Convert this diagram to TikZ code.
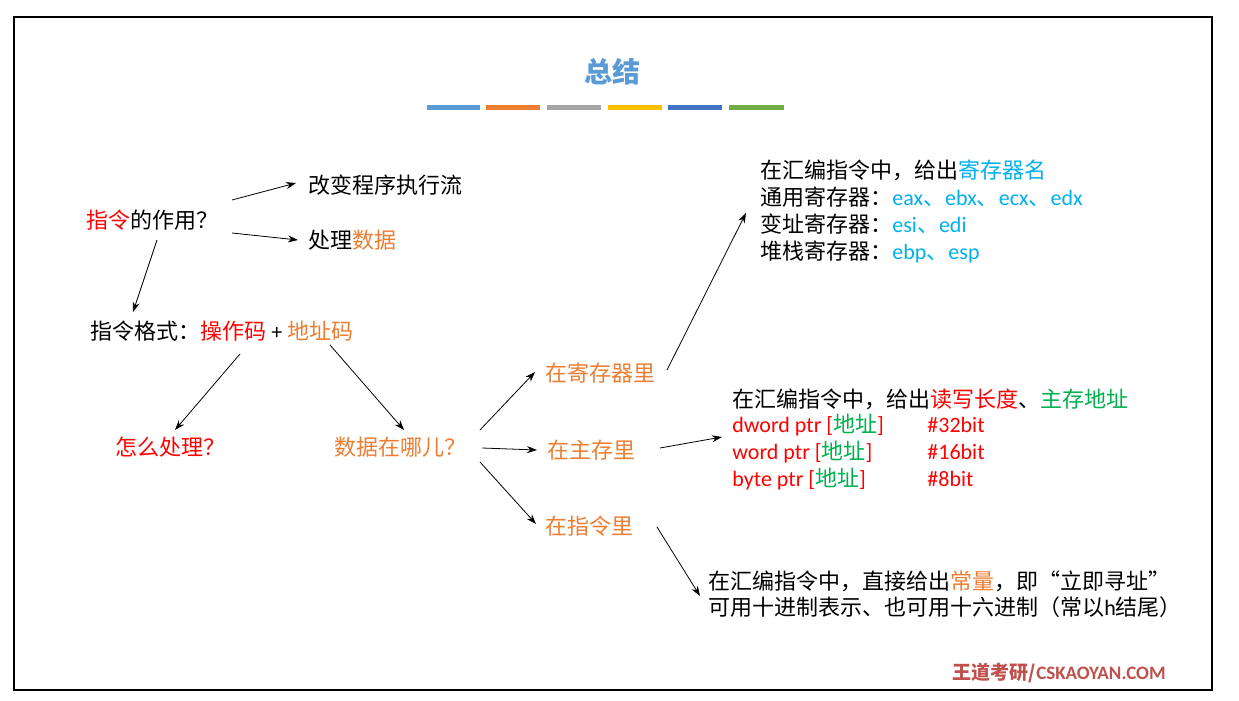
\documentclass[tikz,border=0pt]{standalone}
\usepackage{fontspec}
\setmainfont{Noto Sans CJK SC}
\newfontfamily\en{Carlito}
\usetikzlibrary{arrows.meta}
\definecolor{cred}{HTML}{FF0000}
\definecolor{corg}{HTML}{ED7D31}
\definecolor{cblu}{HTML}{00B0F0}
\definecolor{cgrn}{HTML}{00B050}
\definecolor{ttl}{HTML}{5B9BD5}
\definecolor{wd}{HTML}{C0504D}
\begin{document}
\begin{tikzpicture}[x=0.5pt,y=-0.5pt,
  txt/.style={inner sep=0pt,font=\fontsize{11}{13}\selectfont},
  arr/.style={-{Stealth[length=5pt,width=3.5pt]},line width=0.4pt},
  bar/.style={line width=2.5pt}]
\useasboundingbox (0,0) rectangle (1239,701);
\fill[white] (0,0) rectangle (1239,701);
\draw[line width=1pt] (14,17) rectangle (1212,690);
\node[txt,font=\fontsize{14}{16}\selectfont\bfseries,text=ttl] (title) at (612,72) {总结};
\draw[bar,color={rgb,255:red,91;green,155;blue,213}] (427,108)--(480,108);
\draw[bar,color={rgb,255:red,237;green,125;blue,49}] (486,108)--(540,108);
\draw[bar,color={rgb,255:red,165;green,165;blue,165}] (547,108)--(601,108);
\draw[bar,color={rgb,255:red,255;green,192;blue,0}] (608,108)--(662,108);
\draw[bar,color={rgb,255:red,68;green,114;blue,196}] (668,108)--(722,108);
\draw[bar,color={rgb,255:red,112;green,173;blue,71}] (729,108)--(784,108);

\node[txt] (zy) at (152,220) {\textcolor{cred}{指令}的作用？};
\node[txt,anchor=west] (gb) at (308,185) {改变程序执行流};
\node[txt,anchor=west] (cl) at (308,240) {处理\textcolor{corg}{数据}};
\node[txt,anchor=west] (gs) at (90,331) {指令格式：\textcolor{cred}{操作码} {\en +} \textcolor{corg}{地址码}};
\node[txt,text=cred] (zm) at (170,447) {怎么处理？};
\node[txt,text=corg] (sj) at (400,447) {数据在哪儿？};
\node[txt,anchor=west,text=corg] (jc) at (545,373) {在寄存器里};
\node[txt,anchor=west,text=corg] (zc) at (547,450) {在主存里};
\node[txt,anchor=west,text=corg] (zl) at (545,526) {在指令里};

\node[txt,anchor=north west,align=left,font=\fontsize{11}{13.6}\selectfont] (rg) at (760,159) {%
在汇编指令中，给出\textcolor{cblu}{寄存器名}\\
通用寄存器：\textcolor{cblu}{\en eax}\textcolor{cblu}{、}\textcolor{cblu}{\en ebx}\textcolor{cblu}{、}\textcolor{cblu}{\en ecx}\textcolor{cblu}{、}\textcolor{cblu}{\en edx}\\
变址寄存器：\textcolor{cblu}{\en esi}\textcolor{cblu}{、}\textcolor{cblu}{\en edi}\\
堆栈寄存器：\textcolor{cblu}{\en ebp}\textcolor{cblu}{、}\textcolor{cblu}{\en esp}};

\node[txt,anchor=west] (mm) at (732,399) {在汇编指令中，给出\textcolor{cred}{读写长度}、\textcolor{cgrn}{主存地址}};
\node[txt,anchor=west] (m1) at (732,425) {\textcolor{cred}{\en dword ptr [}\textcolor{cgrn}{地址}\textcolor{cred}{\en ]}};
\node[txt,anchor=west] (m2) at (732,452) {\textcolor{cred}{\en word ptr [}\textcolor{cgrn}{地址}\textcolor{cred}{\en ]}};
\node[txt,anchor=west] (m3) at (732,479) {\textcolor{cred}{\en byte ptr [}\textcolor{cgrn}{地址}\textcolor{cred}{\en ]}};
\node[txt,anchor=west,text=cred] (b1) at (927,425) {\en \#32bit};
\node[txt,anchor=west,text=cred] (b2) at (927,452) {\en \#16bit};
\node[txt,anchor=west,text=cred] (b3) at (927,479) {\en \#8bit};

\node[txt,anchor=north west,align=left,font=\fontsize{11}{13}\selectfont] (im) at (708,570) {%
在汇编指令中，直接给出\textcolor{corg}{常量}，即“立即寻址”\\
可用十进制表示、也可用十六进制（常以{\en h}结尾）};

\node[txt,anchor=east,text=wd,font=\fontsize{9.5}{11}\selectfont\bfseries] (wm) at (1166,673) {王道考研/{\en CSKAOYAN.COM}};

\coordinate (a1s) at (232,200); \coordinate (a1e) at (296,183);
\coordinate (a2s) at (232,233); \coordinate (a2e) at (298,240);
\coordinate (a3s) at (157,240); \coordinate (a3e) at (133,312);
\coordinate (a4s) at (240,354); \coordinate (a4e) at (175,430);
\coordinate (a5s) at (330,345); \coordinate (a5e) at (404,430);
\coordinate (a6s) at (480,430); \coordinate (a6e) at (535,372);
\coordinate (a7s) at (482,448); \coordinate (a7e) at (537,450);
\coordinate (a8s) at (480,462); \coordinate (a8e) at (536,524);
\coordinate (a9s) at (667,370); \coordinate (a9e) at (746,213);
\coordinate (a10s) at (660,448); \coordinate (a10e) at (722,437);
\coordinate (a11s) at (657,527); \coordinate (a11e) at (700,596);
\foreach \i in {1,...,11} \draw[arr] (a\i s) -- (a\i e);
\end{tikzpicture}
\end{document}
